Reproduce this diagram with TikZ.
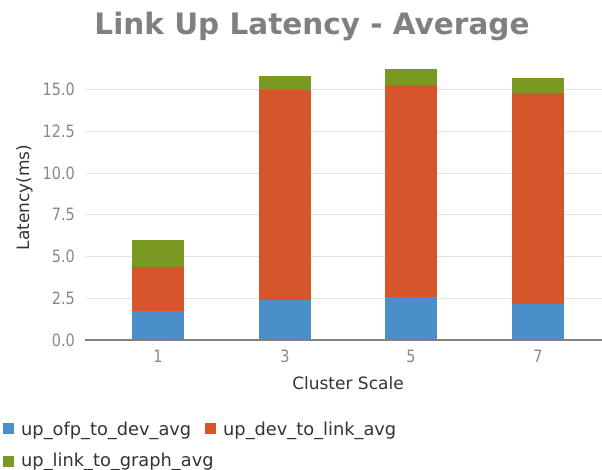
\documentclass[tikz,border=0pt]{standalone}
\usepackage{fontspec}
\setmainfont{DejaVu Sans}
\newfontfamily\tickfont[FakeStretch=0.85]{DejaVu Sans}
\definecolor{ofpblue}{RGB}{74,143,202}
\definecolor{devorange}{RGB}{214,85,42}
\definecolor{graphgreen}{RGB}{121,153,34}
\definecolor{titlegray}{RGB}{128,128,128}
\definecolor{tickgray}{RGB}{136,136,136}
\definecolor{gridgray}{RGB}{226,226,226}

\begin{document}
\begin{tikzpicture}[x=1pt,y=1pt,
    ticklabel/.style={font=\tickfont\fontsize{17}{17}\selectfont,text=tickgray,inner sep=0pt},
    axislabel/.style={font=\fontsize{17}{17}\selectfont,text=black!80,inner sep=0pt},
    legendtext/.style={font=\fontsize{17.8}{18}\selectfont,text=black!80,inner sep=0pt,anchor=base west},
    key/.style={minimum size=11pt,inner sep=0pt,anchor=south west}]
    \useasboundingbox(0,0)rectangle(602,469);
    \node[font=\bfseries\fontsize{29.5}{30}\selectfont,text=titlegray,anchor=base](title)at(312,434.7){Link Up Latency - Average};
    \begin{scope}[shift={(0,129)},y=16.71pt]
    \foreach\v in{2.5,5,...,15}
    \draw[gridgray](86,\v)--(602,\v);
    \foreach\v/\t [count=\i] in{0/0.0,2.5/2.5,5/5.0,7.5/7.5,10/10.0,12.5/12.5,15/15.0}
    \node[ticklabel,anchor=east](ytick\i)at(75,\v){\t};
    \foreach\x/\s/\a/\b/\c in{158/1/1.75/4.35/5.98,285/3/2.39/14.96/15.82,411/5/2.56/15.28/16.2,538/7/2.15/14.8/15.68}{
    \fill[ofpblue](\x-26,0)rectangle(\x+26,\a);
    \fill[devorange](\x-26,\a)rectangle(\x+26,\b);
    \fill[graphgreen](\x-26,\b)rectangle(\x+26,\c);
    \node[ticklabel](xtick\s)at(\x,-1.0){\s};
    }
    \draw[gray,line width=2pt](85,0)--(602,0);
    \end{scope}
    \node[axislabel,anchor=base](xlabel)at(348,80){Cluster Scale};
    \node[axislabel,rotate=90](ylabel)at(24.5,271.5){Latency(ms)};
    \node[key,fill=ofpblue](ofpkey)at(3,35){};
    \node[legendtext](ofptext)at(21,34){up\_ofp\_to\_dev\_avg};
    \node[key,fill=devorange](devkey)at(205,35){};
    \node[legendtext](devtext)at(223,34){up\_dev\_to\_link\_avg};
    \node[key,fill=graphgreen](graphkey)at(3,1.7){};
    \node[legendtext](graphtext)at(21,3){up\_link\_to\_graph\_avg};
  \end{tikzpicture}
\end{document}
